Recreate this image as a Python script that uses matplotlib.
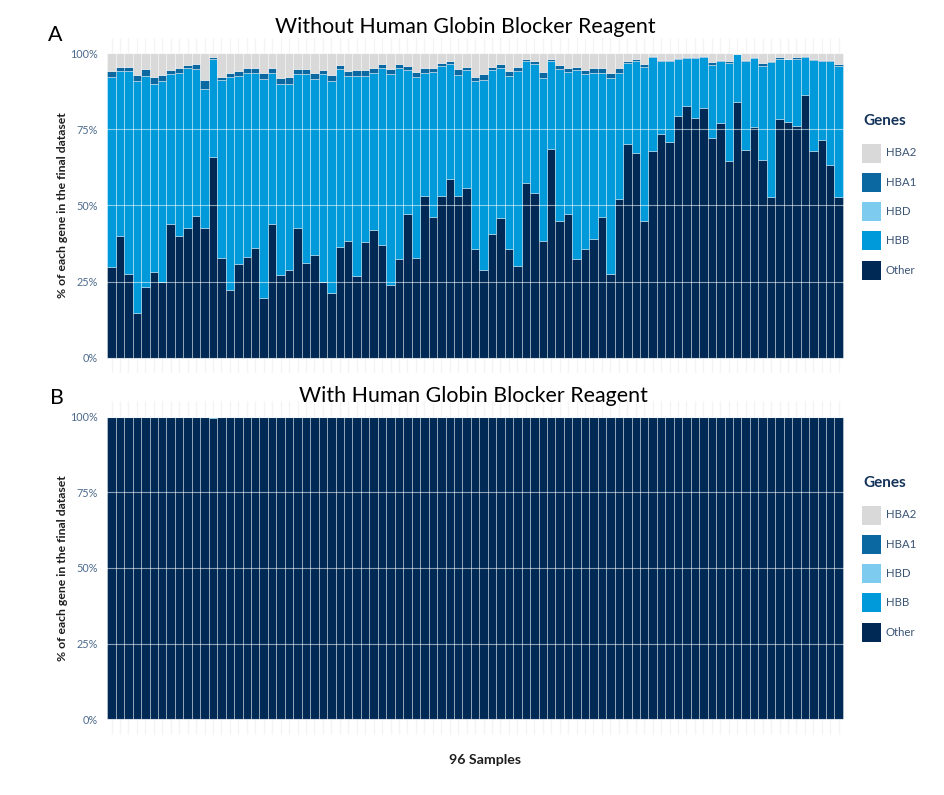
import matplotlib
matplotlib.use("Agg")
import matplotlib.pyplot as plt
from matplotlib.patches import Rectangle
import numpy as np

# ---------------- data (percent of each gene per sample) ----------------
genes = ["HBA2", "HBA1", "HBD", "HBB", "Other"]

other_a = [29.9, 39.9, 27.4, 14.6, 23.1, 28.3, 24.9, 43.8, 40.0, 42.6, 46.4, 42.5, 66.0, 32.6, 22.3,
           30.9, 33.1, 36.0, 19.6, 43.8, 27.2, 28.7, 42.6, 31.1, 33.7, 24.8, 21.2, 36.4, 38.3, 26.7,
           38.1, 41.8, 36.9, 24.0, 32.3, 47.3, 32.7, 53.2, 46.2, 53.0, 58.5, 53.1, 55.7, 35.6, 28.7,
           40.5, 46.0, 35.6, 30.0, 57.3, 54.1, 38.4, 68.6, 44.9, 47.2, 32.3, 35.7, 38.9, 46.1, 27.4,
           52.2, 70.3, 67.3, 44.8, 67.8, 73.4, 70.8, 79.5, 82.5, 78.8, 81.9, 72.1, 77.0, 64.5, 83.9,
           68.3, 75.7, 64.8, 52.7, 78.3, 77.5, 76.2, 86.2, 68.0, 71.4, 63.3, 52.8]

hbb_a = [62.2, 54.2, 66.7, 76.1, 69.4, 61.6, 65.8, 49.2, 53.5, 52.5, 48.5, 45.8, 32.1, 58.6, 69.7,
         61.6, 60.4, 57.5, 72.0, 49.7, 62.7, 61.3, 50.6, 62.1, 57.9, 68.2, 69.5, 58.5, 54.2, 65.8,
         54.3, 51.7, 58.2, 69.2, 62.8, 47.2, 59.5, 40.3, 47.6, 42.8, 37.9, 39.8, 38.8, 55.2, 62.5,
         53.8, 49.2, 56.9, 64.1, 40.1, 42.4, 53.5, 28.8, 49.8, 46.7, 62.0, 57.3, 54.7, 47.4, 64.4,
         41.3, 26.3, 30.2, 50.6, 30.9, 24.0, 26.6, 18.4, 15.9, 19.6, 16.7, 24.1, 20.4, 32.2, 15.8,
         29.0, 22.7, 31.1, 44.2, 19.8, 20.4, 21.9, 12.5, 29.7, 25.9, 34.0, 42.8]

hbd_a = [0.0] * 87

hba1_a = [1.9, 1.3, 1.3, 2.0, 2.1, 2.1, 2.0, 1.5, 1.6, 1.1, 1.5, 2.9, 0.6, 1.1, 1.6,
          1.6, 1.6, 1.6, 1.7, 1.6, 1.8, 2.3, 1.5, 1.5, 1.7, 1.5, 2.0, 1.1, 1.6, 1.8,
          1.9, 1.6, 1.2, 1.5, 1.2, 1.2, 1.7, 1.6, 1.4, 0.9, 1.0, 1.8, 0.9, 1.3, 2.0,
          1.2, 1.1, 1.6, 1.3, 0.6, 0.9, 2.0, 0.6, 1.3, 1.3, 1.2, 1.5, 1.4, 1.5, 1.6,
          1.6, 0.7, 0.6, 0.9, 0.2, 0.4, 0.4, 0.5, 0.3, 0.3, 0.3, 1.0, 0.4, 0.6, 0.1,
          0.5, 0.3, 0.8, 0.6, 0.5, 0.3, 0.5, 0.4, 0.4, 0.5, 0.5, 0.9]

hba2_a = [6.0, 4.6, 4.6, 7.3, 5.4, 8.0, 7.3, 5.5, 4.9, 3.8, 3.6, 8.8, 1.3, 7.7, 6.4,
          5.9, 4.9, 4.9, 6.7, 4.9, 8.3, 7.7, 5.3, 5.3, 6.7, 5.5, 7.3, 4.0, 5.9, 5.7,
          5.7, 4.9, 3.7, 5.3, 3.7, 4.3, 6.1, 4.9, 4.8, 3.3, 2.6, 5.3, 4.6, 7.9, 6.8,
          4.5, 3.7, 5.9, 4.6, 2.0, 2.6, 6.1, 2.0, 4.0, 4.8, 4.5, 5.5, 5.0, 5.0, 6.6,
          4.9, 2.7, 1.9, 3.7, 1.1, 2.2, 2.2, 1.6, 1.3, 1.3, 1.1, 2.8, 2.2, 2.7, 0.2,
          2.2, 1.3, 3.3, 2.5, 1.4, 1.8, 1.4, 0.9, 1.9, 2.2, 2.2, 3.5]

# With blocker: essentially all "Other"; sample 13 shows a sliver of HBB
other_b = [100.0] * 87
other_b[12] = 99.6
hbb_b = [0.0] * 87
hbb_b[12] = 0.4
hbd_b = [0.0] * 87
hba1_b = [0.0] * 87
hba2_b = [0.0] * 87

ytick_vals = [0, 25, 50, 75, 100]
ytick_labels = ["0%", "25%", "50%", "75%", "100%"]

colors = {"HBA2": "#d9d9d9", "HBA1": "#0b68a0", "HBD": "#7dccef",
          "HBB": "#009ada", "Other": "#002a55"}

# ---------------- figure ----------------
W, H = 945, 795
fig = plt.figure(figsize=(W / 100, H / 100), dpi=100)
fig.patch.set_facecolor("white")

def fx(px):
    return px / W

def fy(py):
    return 1 - py / H

tick_color = "#4d6a8c"
label_color = "#1e1e1e"
navy_text = "#15335a"
title_font = ["Lato", "DejaVu Sans"]
body_font = ["Lato", "DejaVu Sans"]

def draw_panel(rect, series):
    ax = fig.add_axes(rect)
    n = len(series["Other"])
    x = np.arange(n)
    ax.set_xlim(-1.1, n - 1 + 1.1)
    ax.set_ylim(-5, 105)
    # faint vertical grid (visible in the expanded region)
    for xi in x:
        ax.axvline(xi, color="#f3f5f3", lw=0.9, zorder=0)
    bottom = np.zeros(n)
    for g in ["Other", "HBB", "HBD", "HBA1", "HBA2"]:
        vals = np.array(series[g], dtype=float)
        ax.bar(x, vals, width=1.0, bottom=bottom, color=colors[g],
               edgecolor=(1, 1, 1, 0.42), linewidth=0.6, zorder=2)
        bottom = bottom + vals
    for yv in ytick_vals:
        ax.axhline(yv, color="white", alpha=0.55, lw=0.8, zorder=3)
    ax.set_yticks(ytick_vals)
    ax.set_yticklabels(ytick_labels, color=tick_color, fontsize=7.8,
                       family=body_font)
    ax.tick_params(axis="y", length=0, pad=3)
    ax.set_xticks([])
    for s in ax.spines.values():
        s.set_visible(False)
    ax.set_ylabel("% of each gene in the final dataset", fontsize=8.8,
                  fontweight="bold", color=label_color, family=body_font,
                  labelpad=2)
    return ax

series_a = {"Other": other_a, "HBB": hbb_a, "HBD": hbd_a, "HBA1": hba1_a, "HBA2": hba2_a}
series_b = {"Other": other_b, "HBB": hbb_b, "HBD": hbd_b, "HBA1": hba1_b, "HBA2": hba2_b}

axA = draw_panel([fx(102.2), fy(373.0), fx(848.0) - fx(102.2), (373.0 - 37.8) / H], series_a)
axB = draw_panel([fx(102.2), fy(734.6), fx(848.0) - fx(102.2), (734.6 - 401.4) / H], series_b)

# titles and panel letters
fig.text(fx(465), fy(27), "Without Human Globin Blocker Reagent", ha="center", va="center",
         fontsize=15.4, color="black", family=title_font)
fig.text(fx(473), fy(396), "With Human Globin Blocker Reagent", ha="center", va="center",
         fontsize=15.4, color="black", family=title_font)
fig.text(fx(55), fy(35), "A", ha="center", va="center", fontsize=15.4, color="black", family=title_font)
fig.text(fx(57), fy(398), "B", ha="center", va="center", fontsize=15.4, color="black", family=title_font)

fig.text(fx(485), fy(760), "96 Samples", ha="center", va="center", fontsize=10.2,
         fontweight="bold", color=label_color, family=body_font)

# legends
def draw_legend(y_title):
    fig.text(fx(863), fy(y_title), "Genes", ha="left", va="center", fontsize=11,
             fontweight="bold", color=navy_text, family=body_font)
    for i, g in enumerate(genes):
        yc = y_title + 32 + i * 29.3
        fig.add_artist(Rectangle((fx(862), fy(yc + 9.5)), fx(19), 19 / H,
                                 transform=fig.transFigure, facecolor=colors[g],
                                 edgecolor="none"))
        fig.text(fx(886), fy(yc), g, ha="left", va="center", fontsize=8.2,
                 color="#3a5475", family=body_font)

draw_legend(121)
draw_legend(483)

fig.savefig("out.png", dpi=100, facecolor="white")
